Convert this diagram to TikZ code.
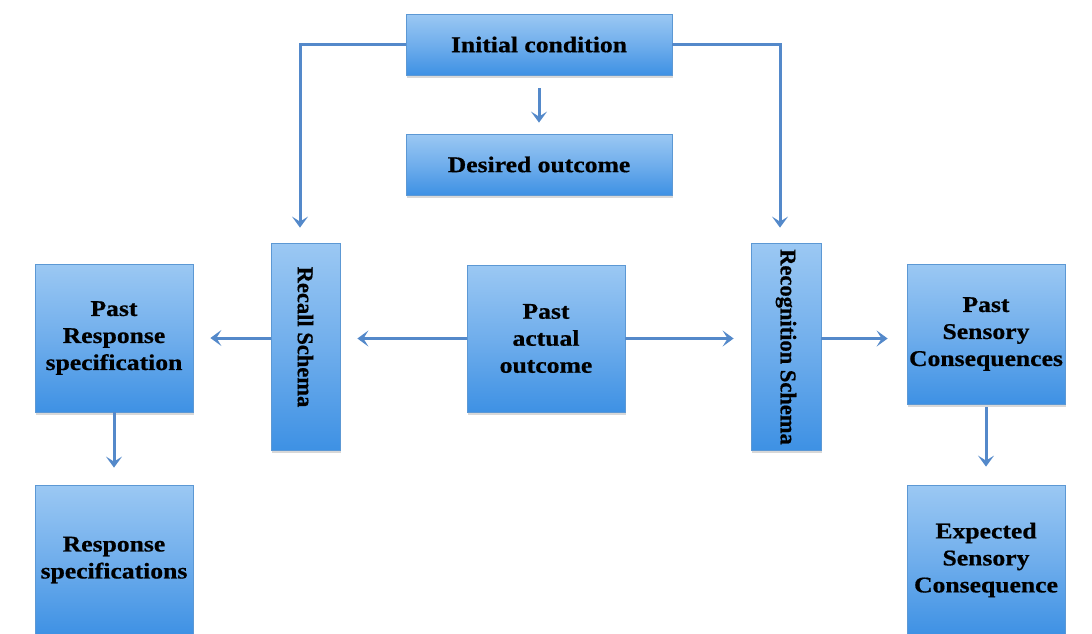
\documentclass[tikz,border=0pt]{standalone}
\usepackage{fontspec}
\setmainfont{Liberation Serif}[FakeBold=0.6]
% slightly widened serif for the box labels
\newfontfamily\boxfont{Liberation Serif}[FakeStretch=1.14, FakeBold=0.6]
\usetikzlibrary{arrows.meta,shadows,calc}

\definecolor{linkblue}{RGB}{84,137,202}
\definecolor{boxtop}{RGB}{155,200,243}
\definecolor{boxmid}{RGB}{112,174,236}
\definecolor{boxbot}{RGB}{62,145,228}
\definecolor{boxedge}{RGB}{92,152,212}

\begin{document}
\begin{tikzpicture}[x=1pt,y=-1pt,
  block/.style={draw=boxedge, line width=0.8pt,
    top color=boxtop, bottom color=boxbot, middle color=boxmid,
    inner sep=0pt, align=center,
    font=\boxfont\bfseries\fontsize{22.5}{27}\selectfont,
    drop shadow={opacity=0.3, shadow xshift=1pt, shadow yshift=-2.5pt}},
  wide/.style={block, minimum width=266pt, minimum height=61pt},
  square/.style={block, minimum width=158pt, minimum height=148pt},
  pillar/.style={block, minimum width=69pt, minimum height=207pt},
  sidelabel/.style={rotate=-90, inner sep=0pt,
    font=\bfseries\fontsize{22.5}{27}\selectfont},
  arr/.style={draw=linkblue, line width=3pt,
    -{Stealth[length=11pt,width=16pt,inset=5pt]}}
]
\useasboundingbox (0,0) rectangle (1092,633);
\clip (0,0) rectangle (1092,633);
\fill[white] (0,0) rectangle (1092,633);

% top row
\node[wide] (init) at (539,44.5) {Initial condition};
\node[wide] (desired) at (539,164.5) {Desired outcome};

% schema pillars
\node[pillar] (recall) at (305.5,346.5) {};
\node[sidelabel] (recallText) at (305.5,337) {Recall Schema};
\node[pillar, minimum width=70pt] (recog) at (786,346.5) {};
\node[sidelabel] (recogText) at (786,347) {Recognition Schema};

% middle row
\node[square] (pastresp) at (114,338) {Past\\Response\\specification};
\node[square, minimum height=147pt] (pastact) at (546,338.5) {Past\\actual\\outcome};
\node[square, minimum height=140pt] (pastsens) at (986,334) {Past\\Sensory\\Consequences};

% bottom row
\node[square, minimum height=150pt] (respspec) at (114,560) {Response\\specifications};
\node[square, minimum height=150pt] (expected) at (986,560) {Expected\\Sensory\\Consequence};

% connectors
\draw[arr, shorten <=13pt, shorten >=11pt] (init) -- (desired);
\draw[arr, shorten >=15pt] (init.west) -| ([xshift=-5.5pt]recall.north);
\draw[arr, shorten >=15pt] (init.east) -| ([xshift=-6pt]recog.north);
\draw[arr, shorten >=17pt] (recall.west |- pastresp.east) -- (pastresp.east);
\draw[arr, shorten >=17pt] (pastact.west) -- (recall.east |- pastact.west);
\draw[arr, shorten >=17pt] (pastact.east) -- (recog.west |- pastact.east);
\draw[arr, shorten >=19pt] (recog.east |- pastact.east) -- (pastsens.west |- pastact.east);
\draw[arr, shorten >=17pt] (pastresp) -- (respspec);
\draw[arr, shorten <=3pt, shorten >=18pt] (pastsens) -- (expected);
\end{tikzpicture}
\end{document}
